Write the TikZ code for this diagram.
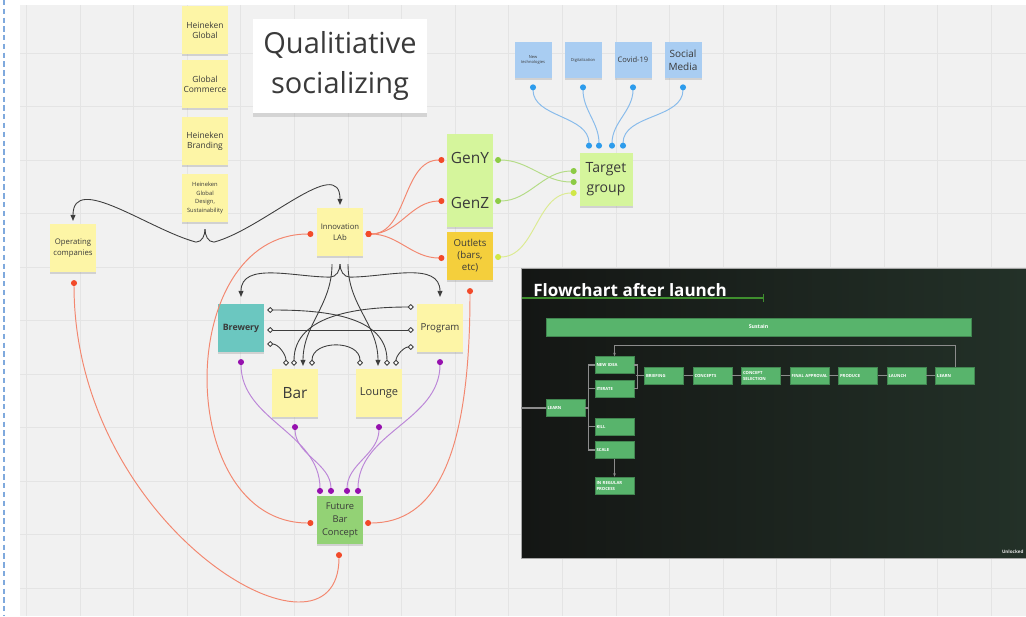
\documentclass[tikz,border=0pt]{standalone}
\usepackage{fontspec}
\setmainfont{Open Sans}
\usetikzlibrary{arrows.meta, positioning, calc, shadows}

\newcommand{\fsz}[2]{\fontsize{#1}{#2}\selectfont}

\definecolor{boardbg}{HTML}{F1F1F1}
\definecolor{gridgray}{HTML}{E4E4E4}
\definecolor{edgeblue}{HTML}{7FA9DD}
\definecolor{inktext}{HTML}{3A3A3A}
\definecolor{noteyellow}{HTML}{FDF5A6}
\definecolor{notelime}{HTML}{D5F59C}
\definecolor{noteorange}{HTML}{F4CF3C}
\definecolor{notegreen}{HTML}{93D275}
\definecolor{noteteal}{HTML}{6BC7C0}
\definecolor{noteblue}{HTML}{A9CDF2}
\definecolor{linkred}{HTML}{F3876F}
\definecolor{dotred}{HTML}{F24A2A}
\definecolor{linkpurple}{HTML}{BC86D8}
\definecolor{dotpurple}{HTML}{9610AE}
\definecolor{linkblue}{HTML}{88BBEB}
\definecolor{dotblue}{HTML}{2E9CEC}
\definecolor{linkgreen}{HTML}{B4DC86}
\definecolor{dotgreen}{HTML}{8CCB45}
\definecolor{linklime}{HTML}{DCEB92}
\definecolor{dotlime}{HTML}{D0E748}
\definecolor{flowgray}{HTML}{3E3E3E}
\definecolor{fcdarkL}{HTML}{141614}
\definecolor{fcdarkR}{HTML}{233128}
\definecolor{fcgreen}{HTML}{58B46C}
\definecolor{fcwirecol}{HTML}{8C8C8C}
\definecolor{fcrule}{HTML}{3F8F2E}

\tikzset{
  note/.style={fill=#1, minimum width=0.93cm, minimum height=0.95cm,
    inner sep=0.5pt, align=center, text=inktext,
    drop shadow={shadow xshift=0pt, shadow yshift=-1.3pt, opacity=0.28}},
  note/.default=noteyellow,
  redlink/.style={draw=linkred, line width=0.55pt,
    arrows={Circle[length=3.4pt, color=dotred]-Circle[length=3.4pt, color=dotred]}},
  purplelink/.style={draw=linkpurple, line width=0.55pt,
    arrows={Circle[length=3.4pt, color=dotpurple]-Circle[length=3.4pt, color=dotpurple]}},
  bluelink/.style={draw=linkblue, line width=0.55pt,
    arrows={Circle[length=3.4pt, color=dotblue]-Circle[length=3.4pt, color=dotblue]}},
  greenlink/.style={draw=linkgreen, line width=0.55pt,
    arrows={Circle[length=3.4pt, color=dotgreen]-Circle[length=3.4pt, color=dotgreen]}},
  limelink/.style={draw=linklime, line width=0.55pt,
    arrows={Circle[length=3.4pt, color=dotlime]-Circle[length=3.4pt, color=dotlime]}},
  flow/.style={draw=flowgray, line width=0.5pt},
  diamondlink/.style={draw=flowgray, line width=0.5pt,
    arrows={Diamond[fill=white, length=3.6pt, width=3.4pt]-Diamond[fill=white, length=3.6pt, width=3.4pt]}},
  fcbox/.style={fill=fcgreen, draw=fcgreen!75!black, line width=0.3pt,
    minimum width=0.78cm, minimum height=0.34cm, text width=0.72cm,
    align=left, inner sep=0.6pt, text=white, font=\fsz{2.4}{3.4}\bfseries},
  fcwire/.style={draw=fcwirecol, line width=0.6pt}
}

\begin{document}
\begin{tikzpicture}[x=0.02cm, y=-0.02cm, >={Triangle[length=3.4pt, width=2.8pt]}]
  \useasboundingbox (0,0) rectangle (1026,616);
  % board and grid
  \fill[white] (0,0) rectangle (1026,616);
  \fill[boardbg] (20,5) rectangle (1026,616);
  \foreach \gx in {26.4,80,...,1026}
    \draw[gridgray, line width=0.4pt] (\gx,5) -- (\gx,616);
  \foreach \gy in {53,106.5,...,616}
    \draw[gridgray, line width=0.4pt] (20,\gy) -- (1026,\gy);
  \draw[edgeblue, line width=0.9pt, dash pattern=on 3pt off 2pt] (4,0) -- (4,616);

  % heineken column
  \node[note, font=\fsz{4.8}{5.8}] (hglobal) at (205,30) {Heineken\\Global};
  \node[note, font=\fsz{4.8}{5.8}] (gcommerce) at (205,84) {Global\\Commerce};
  \node[note, font=\fsz{4.8}{5.8}] (hbranding) at (205,141) {Heineken\\Branding};
  \node[note, font=\fsz{3.3}{4.9}] (hdesign) at (205,198)
    {Heineken\\Global\\Design,\\Sustainability};

  \node[fill=white, minimum width=3.5cm, minimum height=1.9cm, align=center,
        text=inktext, font=\fsz{16.5}{22.5},
        drop shadow={shadow xshift=0pt, shadow yshift=-2pt, opacity=0.25}]
    (title) at (340,66) {Qualitiative\\socializing};

  \node[note, font=\fsz{4.4}{6.6}] (lab) at (340,232) {Innovation\\LAb};
  \node[note, font=\fsz{4.4}{6.2}] (opco) at (73,248) {Operating\\companies};

  % target side
  \node[note=notelime, font=\fsz{8.8}{10}] (geny) at (470,158) {GenY};
  \node[note=notelime, font=\fsz{8.8}{10}] (genz) at (470,203) {GenZ};
  \node[note=noteorange, font=\fsz{5.5}{6.8}] (outlets) at (470,256) {Outlets\\(bars,\\etc)};
  \node[note=notelime, minimum width=1.06cm, minimum height=1.06cm,
        font=\fsz{8}{11.3}] (target) at (606,179) {Target\\group};

  \node[note=noteblue, minimum width=0.74cm, minimum height=0.72cm,
        font=\fsz{2.3}{3}] (newtech) at (533,60) {New\\technologies};
  \node[note=noteblue, minimum width=0.74cm, minimum height=0.72cm,
        font=\fsz{2.3}{3}] (digital) at (583,60) {Digitalization};
  \node[note=noteblue, minimum width=0.74cm, minimum height=0.72cm,
        font=\fsz{4.3}{5}] (covid) at (633,60) {Covid-19};
  \node[note=noteblue, minimum width=0.74cm, minimum height=0.72cm,
        font=\fsz{5.7}{7.5}] (social) at (683,60) {Social\\Media};

  % concept parts
  \node[note=noteteal, font=\fsz{5}{6}\bfseries] (brewery) at (241,328) {Brewery};
  \node[note, font=\fsz{5.5}{7}] (program) at (440,328) {Program};
  \node[note, font=\fsz{8.8}{10}] (bar) at (295,393) {Bar};
  \node[note, font=\fsz{6.3}{8}] (lounge) at (379,393) {Lounge};
  \node[note=notegreen, font=\fsz{5.3}{7.4}] (fbc) at (340,520) {Future\\Bar\\Concept};

  % red links
  \draw[redlink] ($(lab.east)+(2,2)$) to[out=0,in=180] ($(geny.west)+(-2,2)$);
  \draw[redlink] ($(lab.east)+(2,2)$) to[out=0,in=180] ($(genz.west)+(-2,-2)$);
  \draw[redlink] ($(lab.east)+(2,2)$) to[out=0,in=180] ($(outlets.west)+(-2,2)$);
  \draw[redlink] ($(lab.west)+(-3,2)$) .. controls +(-140,0) and +(-140,0)
    .. ($(fbc.west)+(-3,3)$);
  \draw[redlink] ($(outlets.south)+(0,8)$) .. controls +(0,170) and +(70,0)
    .. ($(fbc.east)+(1.5,3)$);
  \draw[redlink] ($(opco.south)+(1,8)$) .. controls +(0,250) and +(0,130)
    .. ($(fbc.south)+(-1,8)$);

  % purple links
  \draw[purplelink] ($(brewery.south)+(0,7)$) to[out=-90,in=90] ($(fbc.north)+(-20,-2)$);
  \draw[purplelink] ($(bar.south)+(0,7)$) to[out=-90,in=90] ($(fbc.north)+(-9,-2)$);
  \draw[purplelink] ($(lounge.south)+(0,7)$) to[out=-90,in=90] ($(fbc.north)+(7,-2)$);
  \draw[purplelink] ($(program.south)+(0,7)$) to[out=-90,in=90] ($(fbc.north)+(18,-2)$);

  % blue and green links
  \foreach \src/\dx in {newtech/-17, digital/-7, covid/6, social/17}
    \draw[bluelink] ($(\src.south)+(0,6)$) to[out=-90,in=90] ($(target.north)+(\dx,-3.5)$);
  \draw[greenlink] ($(geny.east)+(1.5,2)$) to[out=0,in=180] ($(target.west)+(-2.5,3)$);
  \draw[greenlink] ($(genz.east)+(1.5,-2)$) to[out=0,in=180] ($(target.west)+(-2.5,-8)$);
  \draw[limelink] ($(outlets.east)+(1.5,1)$) to[out=0,in=180] ($(target.west)+(-2.5,14)$);

  % black arrows
  \coordinate (hq) at ($(hdesign.south)+(0,7)$);
  \draw[flow, ->] (hq) to[out=-90,in=0] ++(-9,13) to[out=165,in=90] ($(opco.north)+(0,-3)$);
  \draw[flow, ->] (hq) to[out=-90,in=180] ++(9,13) to[out=15,in=90] ($(lab.north)+(0,-3)$);
  \coordinate (labfork) at ($(lab.south)+(0,8)$);
  \draw[flow, ->] (labfork) to[out=-90,in=0] ++(-10,13) to[out=180,in=90]
    ($(brewery.north)+(0,-7)$);
  \draw[flow, ->] (labfork) to[out=-90,in=180] ++(10,13) to[out=0,in=90]
    ($(program.north)+(0,-7)$);
  \draw[flow, ->] ($(lab.south)+(-8,8)$) to[out=-90,in=90] ($(bar.north)+(8,-3)$);
  \draw[flow, ->] ($(lab.south)+(8,8)$) to[out=-90,in=90] ($(lounge.north)+(-1,-3)$);

  % diamond links
  \draw[diamondlink] ($(brewery.east)+(2.5,16)$) to[out=0,in=90] ($(bar.north)+(-9,-3)$);
  \draw[diamondlink] ($(bar.north)+(17,-3)$) to[out=90,in=90,looseness=1.4]
    ($(lounge.north)+(-19,-3)$);
  \draw[diamondlink] ($(program.west)+(-2.5,19)$) to[out=180,in=90] ($(lounge.north)+(17,-3)$);
  \draw[diamondlink] ($(program.west)+(-2.5,-21)$) to[out=180,in=90] ($(bar.north)+(-1,-3)$);
  \draw[diamondlink] ($(brewery.east)+(2.5,-18)$) to[out=0,in=90] ($(lounge.north)+(8,-3)$);
  \draw[diamondlink] ($(brewery.east)+(2.5,2)$) to[out=0,in=180] ($(program.west)+(-2.5,2)$);

  % flowchart after launch
  \node[minimum width=10.1cm, minimum height=5.8cm, left color=fcdarkL,
        right color=fcdarkR, draw=gray!70, line width=0.4pt,
        anchor=north west, inner sep=0pt] (panel) at (521,268) {};
  \node[anchor=west, text=white, font=\fsz{9.7}{11}\bfseries, inner sep=0pt]
    (fctitle) at (533,290) {Flowchart after launch};
  \draw[fcrule, line width=0.8pt, -{Bar[width=4pt]}] ($(panel.north west)+(1,30)$) -- ++(242,0);

  \node[fill=fcgreen, draw=fcgreen!75!black, line width=0.3pt,
        minimum width=8.5cm, minimum height=0.36cm, text=white,
        font=\fsz{3}{4}\bfseries] (sustain) at (758.5,327) {Sustain};

  \node[fcbox] (learn) at (565.5,408) {LEARN};
  \node[fcbox] (newidea) at (614.5,365) {NEW IDEA};
  \node[fcbox] (iterate) at (614.5,388.5) {ITERATE};
  \node[fcbox] (kill) at (614.5,426.5) {KILL};
  \node[fcbox] (scale) at (614.5,450) {SCALE};
  \node[fcbox] (regular) at (614.5,485.5) {IN REGULAR\\PROCESS};
  \node[fcbox] (briefing) at (664,375.5) {BRIEFING};
  \node[fcbox, right=0.18cm of briefing] (concepts) {CONCEPTS};
  \node[fcbox, right=0.18cm of concepts] (selection) {CONCEPT\\SELECTION};
  \node[fcbox, right=0.18cm of selection] (approval) {\makebox[0pt][l]{FINAL APPROVAL}};
  \node[fcbox, right=0.18cm of approval] (produce) {PRODUCE};
  \node[fcbox, right=0.18cm of produce] (launch) {LAUNCH};
  \node[fcbox, right=0.18cm of launch] (relearn) {LEARN};

  \draw[fcwire] (panel.west |- learn.west) -- (learn.west);
  \draw[fcwire] (learn.east) -- ++(4,0);
  \draw[fcwire] (newidea.west) -- ++(-6,0) |- (scale.west);
  \draw[fcwire] (iterate.west) -- ++(-6,0);
  \draw[fcwire] (kill.west) -- ++(-6,0);
  \draw[fcwire] (newidea.east) -- ++(3,0) |- (iterate.east);
  \draw[fcwire] (briefing.west) -- ++(-8,0);
  \foreach \a/\b in {briefing/concepts, concepts/selection, selection/approval,
                     approval/produce, produce/launch, launch/relearn}
    \draw[fcwire] (\a) -- (\b);
  \draw[fcwire, -{Stealth[length=2pt]}] (relearn.north) -- ++(0,-21) -| (newidea.north);
  \draw[fcwire, -{Stealth[length=2pt]}] (scale.south) -- (regular.north);

  \node[anchor=south east, text=white!80!gray, font=\fsz{2.6}{3}\bfseries, inner sep=0.5pt]
    (brand) at ($(panel.south east)+(-2,-4)$) {Unlocked};
\end{tikzpicture}
\end{document}
